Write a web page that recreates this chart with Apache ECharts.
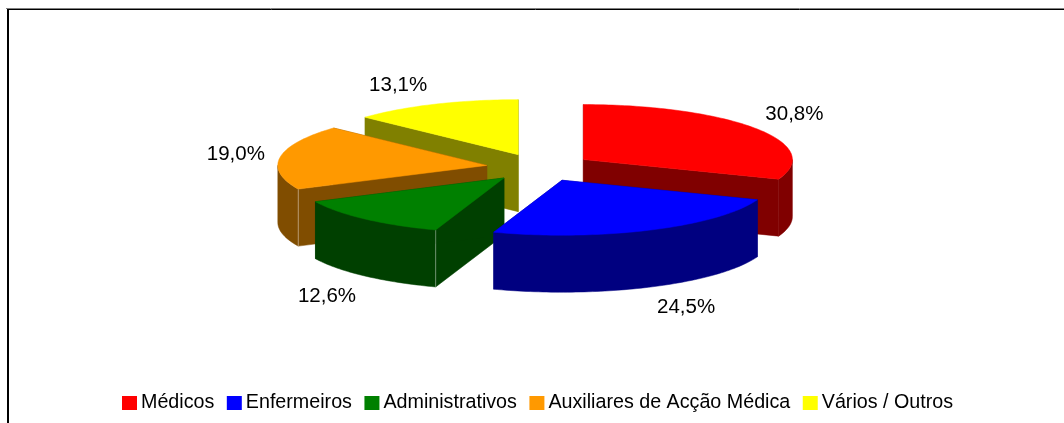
<!DOCTYPE html>
<html><head><meta charset="utf-8">
<style>html,body{margin:0;padding:0;background:#fff}#c{width:1064px;height:423px}</style>
<script src="https://cdn.jsdelivr.net/npm/echarts@6/dist/echarts.min.js"></script>
</head><body><div id="c"></div>
<script>
const categories = ['Médicos','Enfermeiros','Administrativos','Auxiliares de Acção Médica','Vários / Outros'];
const shares = [30.8,24.5,12.6,19.0,13.1];
const colors = ['#ff0000','#0000ff','#008000','#ff9900','#ffff00'];
const wallColors = ['#800000','#000080','#004000','#804d00','#808000'];
const labelShift = [[211,-45],[124,127],[-177,118],[-251,-11],[-120,-69]];
const paintOrder = [4,3,0,2,1];
const pie = {cx:539.5, cy:167.5, rx:209, ry:55, depth:57, explode:0.255};

const total = shares.reduce((a,b)=>a+b,0);
const startAngles = shares.map((_,i)=>shares.slice(0,i).reduce((a,b)=>a+b,0)/total*Math.PI*2);

function renderSlice(i){
  return function(params, api){
    const sweep = api.value(0)/total*Math.PI*2;
    const a0 = startAngles[i], a1 = a0+sweep, mid = a0+sweep/2;
    const ax = pie.cx + pie.explode*pie.rx*Math.sin(mid);
    const ay = pie.cy - pie.explode*pie.ry*Math.cos(mid);
    const pt = (t,d)=>[ax+pie.rx*Math.sin(t), ay-pie.ry*Math.cos(t)+(d||0)];
    const arc = (s,e,d)=>{const n=Math.max(2,Math.ceil((e-s)/0.02)),o=[];for(let k=0;k<=n;k++)o.push(pt(s+(e-s)*k/n,d));return o;};
    const wall = {fill:wallColors[i]};
    const kids = [];
    const poly = (points,style)=>kids.push({type:'polygon',shape:{points},style:Object.assign({stroke:style.fill,lineWidth:0.5},style)});
    [a0,a1].forEach(t=>poly([[ax,ay],pt(t),pt(t,pie.depth),[ax,ay+pie.depth]],wall));
    const fs = Math.max(a0,Math.PI/2), fe = Math.min(a1,Math.PI*1.5);
    if(fe>fs) poly(arc(fs,fe).concat(arc(fs,fe,pie.depth).reverse()),wall);
    if(a0>Math.PI && a0<Math.PI*1.5){
      const p=pt(a0),q=pt(a0,pie.depth);
      kids.push({type:'line',shape:{x1:p[0],y1:p[1],x2:q[0],y2:q[1]},style:{stroke:'rgba(255,255,255,0.4)',lineWidth:1}});
    }
    poly([[ax,ay]].concat(arc(a0,a1)),{fill:colors[i]});
    kids.push({type:'text',x:ax+labelShift[i][0],y:ay+labelShift[i][1],
      style:{text:api.value(0).toFixed(1).replace('.',',')+'%',fill:'#000',font:'20.5px "Liberation Sans"',align:'center',verticalAlign:'middle'}});
    return {type:'group',children:kids};
  };
}

const chart = echarts.init(document.getElementById('c'),null,{renderer:'canvas'});
chart.setOption({
  animation:false,
  backgroundColor:'#fff',
  legend:{
    data:categories, left:122, top:393, orient:'horizontal', icon:'rect',
    itemWidth:15, itemHeight:14, itemGap:12.5, selectedMode:false, padding:0,
    textStyle:{color:'#000',fontFamily:'Liberation Sans',fontSize:19.7,padding:[0,0,0,-1]}
  },
  graphic:[
    {type:'line',silent:true,shape:{x1:6,y1:8.5,x2:1064,y2:8.5},style:{stroke:'#808080',lineWidth:1}},
    {type:'line',silent:true,shape:{x1:7,y1:9.5,x2:1064,y2:9.5},style:{stroke:'#000',lineWidth:1}},
    {type:'line',silent:true,shape:{x1:8,y1:9,x2:8,y2:423},style:{stroke:'#000',lineWidth:2}}
  ],
  series:paintOrder.map(i=>({
    type:'custom', name:categories[i], coordinateSystem:'none',
    itemStyle:{color:colors[i]}, data:[[shares[i]]], renderItem:renderSlice(i), silent:true
  }))
});
</script></body></html>
